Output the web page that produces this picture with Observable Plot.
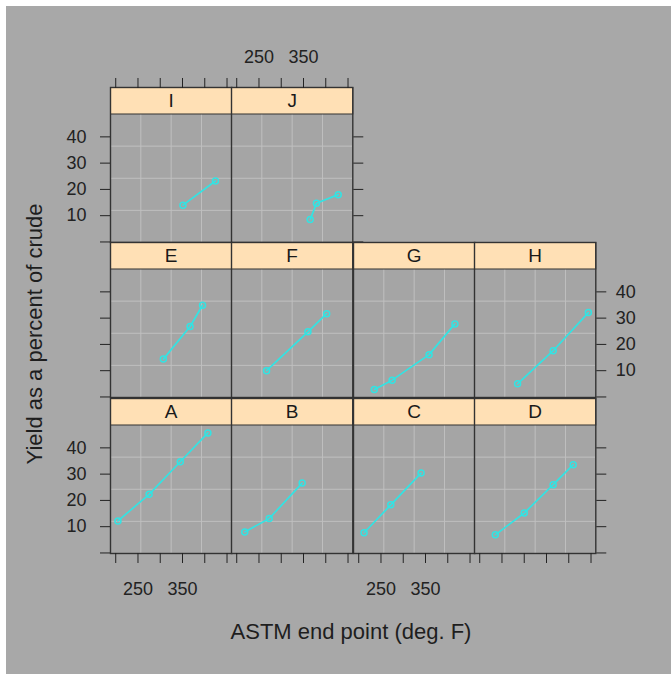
<!DOCTYPE html>
<html>
<head>
<meta charset="utf-8">
<script src="https://cdn.jsdelivr.net/npm/d3@7"></script>
<script src="https://cdn.jsdelivr.net/npm/@observablehq/plot@0.6"></script>
<style>
  body { margin: 0; background: #ffffff; }
  #fig { position: relative; width: 671px; height: 674px; overflow: hidden; background: #ffffff; }
  #bg { position: absolute; left: 6px; top: 6px; right: 0; bottom: 0; background: #a8a8a8; }
  .panel { position: absolute; }
  .title { position: absolute; font-family: "Liberation Sans", Arial, sans-serif; color: #1e1e1e; white-space: nowrap; }
</style>
</head>
<body>
<div id="fig"><div id="bg"></div></div>
<script>
// ---- data (Prater's gasoline yield data) ----
const sample   = ["A","A","A","A","B","B","B","C","C","C","D","D","D","D","E","E","E","F","F","F","G","G","G","G","H","H","H","I","I","J","J","J"];
const endPoint = [205,275,345,407, 218,273,347, 212,272,340, 235,300,365,410, 307,367,395, 267,360,402, 235,275,358,416, 285,365,444, 351,424, 365,379,428];
const yieldPct = [12.2,22.3,34.7,45.7, 8.0,13.1,26.6, 7.7,18.3,30.4, 6.9,15.2,26.0,33.6, 14.4,26.8,34.9, 10.0,24.8,31.7, 2.8,6.4,16.1,27.8, 5.0,17.6,32.1, 14.0,23.2, 8.5,14.7,18.0];
const panelRows = [["I","J"], ["E","F","G","H"], ["A","B","C","D"]]; // top to bottom
const xTicks = [200,250,300,350,400,450];
const xLabelled = [250,350];
const yTicks = [0,10,20,30,40];
const yLabelled = [10,20,30,40];
const xTitle = "ASTM end point (deg. F)";
const yTitle = "Yield as a percent of crude";

const table = sample.map((s, i) => ({sample: s, ep: endPoint[i], y: yieldPct[i]}));

// ---- layout / style ----
const font = "Liberation Sans, Arial, Helvetica, sans-serif";
const colX = [109.5, 231, 352.5, 474];
const rowTop = [87, 242, 397.5];
const colW = 121.3, stripH = 26.5, panelH = 128.5;
const M = 60;
const cyan = "#33e3e3";
const ink = "#222222";
const frameCol = "#333333";
const gridCol = "#c0c0c0";
const stripFill = "#ffe0b5";
const panelFill = "#a5a5a5";
const tickFont = 18;

// domains with lattice-style 7% padding
const xExt = d3.extent(endPoint), yExt = d3.extent(yieldPct);
const xPad = (xExt[1] - xExt[0]) * 0.07, yPad = (yExt[1] - yExt[0]) * 0.07;
const xDom = [xExt[0] - xPad, xExt[1] + xPad];
const yDom = [yExt[0] - yPad, yExt[1] + yPad];
const xGrid = [1, 2, 3].map(k => xDom[0] + k * (xDom[1] - xDom[0]) / 4);
const yGrid = [1, 2, 3].map(k => yDom[0] + k * (yDom[1] - yDom[0]) / 4);

const fig = document.getElementById("fig");
const nRows = panelRows.length;

panelRows.forEach((letters, r) => {
  const maxCol = letters.length - 1;
  letters.forEach((letter, c) => {
    const rows = table.filter(d => d.sample === letter);
    const axes = [];
    const xfmt = d => xLabelled.includes(d) ? String(d) : "";
    const yfmt = d => yLabelled.includes(d) ? String(d) : "";
    const none = () => "";
    if (r === nRows - 1) {
      axes.push(Plot.axisX({anchor: "bottom", ticks: xTicks, tickSize: 10, tickPadding: 19,
        tickFormat: c % 2 === 0 ? xfmt : none, fontSize: tickFont, color: ink, label: null}));
    }
    if (r === 0) {
      axes.push(Plot.axisX({anchor: "top", ticks: xTicks, tickSize: 10, tickPadding: 14,
        tickFormat: c % 2 === 1 ? xfmt : none, fontSize: tickFont, color: ink, label: null}));
    }
    const labelLeft = (nRows - 1 - r) % 2 === 0;
    if (c === 0) {
      axes.push(Plot.axisY({anchor: "left", ticks: yTicks, tickSize: 10, tickPadding: 14,
        tickFormat: labelLeft ? yfmt : none, fontSize: tickFont, color: ink, label: null}));
    }
    if (c === maxCol) {
      axes.push(Plot.axisY({anchor: "right", ticks: yTicks, tickSize: 10, tickPadding: 10,
        tickFormat: labelLeft ? none : yfmt, fontSize: tickFont, color: ink, label: null}));
    }
    const chart = Plot.plot({
      width: colW + 2 * M,
      height: stripH + panelH + 2 * M,
      margin: M,
      style: {fontFamily: font, background: "transparent", overflow: "visible"},
      x: {domain: xDom, range: [M, M + colW], axis: null},
      y: {domain: yDom, range: [M + stripH + panelH, M + stripH], axis: null},
      marks: [
        Plot.frame({fill: panelFill, insetTop: stripH}),
        Plot.ruleX(xGrid, {stroke: gridCol, strokeWidth: 1, insetTop: stripH}),
        Plot.ruleY(yGrid, {stroke: gridCol, strokeWidth: 1}),
        Plot.line(rows, {x: "ep", y: "y", stroke: cyan, strokeWidth: 1.7}),
        Plot.dot(rows, {x: "ep", y: "y", r: 3, stroke: cyan, strokeWidth: 1.5, fill: "none"}),
        Plot.frame({fill: stripFill, stroke: frameCol, strokeWidth: 1, insetBottom: panelH}),
        Plot.text([letter], {text: d => d, frameAnchor: "top", dy: stripH / 2, lineAnchor: "middle",
          fontSize: 19, fill: "#1a1a1a"}),
        Plot.frame({stroke: frameCol, strokeWidth: 1.4}),
        ...axes
      ]
    });
    chart.classList.add("panel");
    chart.style.left = (colX[c] - M) + "px";
    chart.style.top = (rowTop[r] - M) + "px";
    fig.appendChild(chart);
  });
});

const xt = document.createElement("div");
xt.className = "title";
xt.textContent = xTitle;
xt.style.fontSize = "22px";
xt.style.left = "351px"; xt.style.top = "632px";
xt.style.transform = "translate(-50%, -50%)";
fig.appendChild(xt);

const yt = document.createElement("div");
yt.className = "title";
yt.textContent = yTitle;
yt.style.fontSize = "22px";
yt.style.left = "35px"; yt.style.top = "334px";
yt.style.transform = "translate(-50%, -50%) rotate(-90deg)";
fig.appendChild(yt);
</script>
</body>
</html>
